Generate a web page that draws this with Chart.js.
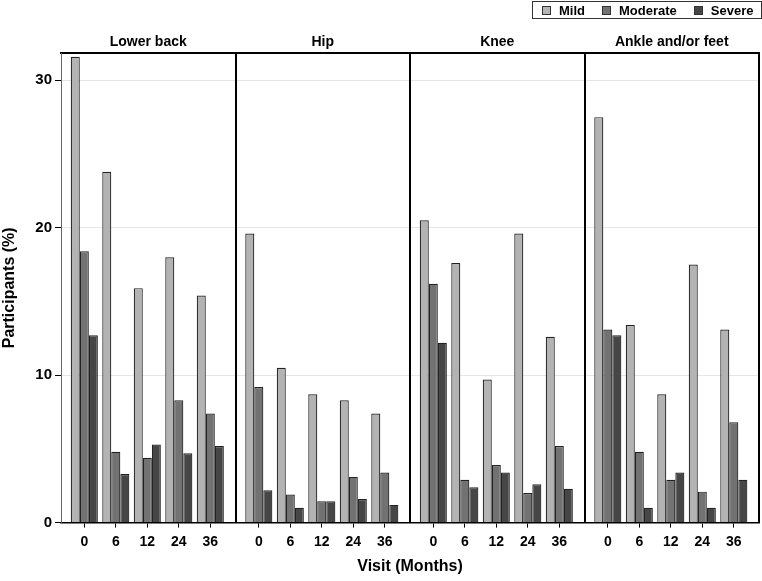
<!DOCTYPE html>
<html>
<head>
<meta charset="utf-8">
<script src="https://cdn.jsdelivr.net/npm/chart.js@4/dist/chart.umd.min.js"></script>
<style>
  body { margin: 0; background: #fff; }
  #wrap { position: relative; width: 762px; height: 581px; }
  #legend {
    position: absolute; left: 532px; top: 1px; height: 16px;
    border: 1.5px solid #333; display: flex; align-items: center;
    padding: 0 8px 0 9px;
    font: bold 13px "Liberation Sans", Arial, sans-serif; color: #000;
  }
  #legend span.item { display: flex; align-items: center; margin-right: 17px; }
  #legend span.item:last-child { margin-right: 0; }
  #legend i { display: inline-block; width: 7px; height: 7px; border: 1px solid #333; margin-right: 8px; }
</style>
</head>
<body>
<div id="wrap">
  <canvas id="painChart" width="762" height="581"></canvas>
  <div id="legend"></div>
</div>
<script>
const panels = ["Lower back", "Hip", "Knee", "Ankle and/or feet"];
const visits = ["0", "6", "12", "24", "36"];
const yTicks = [0, 10, 20, 30];

// one row per panel, one value per visit (%)
const mild = [
  [31.6, 23.8, 15.9, 18.0, 15.4],
  [19.6, 10.5, 8.7, 8.3, 7.4],
  [20.5, 17.6, 9.7, 19.6, 12.6],
  [27.5, 13.4, 8.7, 17.5, 13.1]
];
const moderate = [
  [18.4, 4.8, 4.4, 8.3, 7.4],
  [9.2, 1.9, 1.45, 3.1, 3.4],
  [16.2, 2.9, 3.9, 2.0, 5.2],
  [13.1, 4.8, 2.9, 2.1, 6.8]
];
const severe = [
  [12.7, 3.3, 5.3, 4.7, 5.2],
  [2.2, 1.0, 1.45, 1.6, 1.2],
  [12.2, 2.4, 3.4, 2.6, 2.3],
  [12.7, 1.0, 3.4, 1.0, 2.9]
];

const seriesNames = ["Mild", "Moderate", "Severe"];
const seriesColors = ["#b3b3b3", "#727272", "#464646"];

// panel layout on the x axis, in visit slots
const panelWidth = 5.54;
const panelLead = 0.74;

function toPoints(rows) {
  return rows.flatMap((row, p) => row.map((v, i) => ({ x: p * panelWidth + i, y: v })));
}

const panelFrame = {
  id: "panelFrame",
  afterDatasetsDraw(chart) {
    const { ctx, chartArea, scales } = chart;
    ctx.save();
    ctx.strokeStyle = "#000";
    ctx.lineWidth = 2;
    for (let p = 1; p <= panels.length; p++) {
      const px = Math.round(scales.x.getPixelForValue(p * panelWidth - panelLead));
      ctx.beginPath();
      ctx.moveTo(px, chartArea.top);
      ctx.lineTo(px, chartArea.bottom);
      ctx.stroke();
    }
    ctx.restore();
  }
};

Chart.defaults.font.family = "'Liberation Sans', Arial, sans-serif";
Chart.defaults.color = "#000";

const xMin = -panelLead;
const xMax = panels.length * panelWidth - panelLead;

const chart = new Chart(document.getElementById("painChart"), {
  type: "bar",
  data: {
    datasets: [mild, moderate, severe].map((rows, k) => ({
      label: seriesNames[k],
      data: toPoints(rows),
      backgroundColor: seriesColors[k],
      borderColor: "#222",
      borderWidth: 1.2,
      categoryPercentage: 0.86,
      barPercentage: 1.0
    }))
  },
  options: {
    responsive: false,
    animation: false,
    layout: { padding: { top: 32.2, right: 3, bottom: 2.4, left: 0 } },
    plugins: {
      legend: { display: false },
      tooltip: { enabled: false }
    },
    scales: {
      x: {
        type: "linear",
        position: "bottom",
        offset: false,
        min: xMin,
        max: xMax,
        afterBuildTicks: (scale) => {
          scale.ticks = panels.flatMap((_, p) => visits.map((_, i) => ({ value: p * panelWidth + i })));
        },
        ticks: {
          autoSkip: false,
          maxRotation: 0,
          padding: 6.5,
          font: { size: 14, weight: "bold" },
          callback: (value, index) => visits[index % visits.length]
        },
        grid: { offset: false, drawOnChartArea: false, tickLength: 5, tickColor: "#000", color: "#000" },
        border: { color: "#000", width: 1.5 },
        title: {
          display: true,
          text: "Visit (Months)",
          font: { size: 16, weight: "bold" },
          padding: { top: 0, bottom: 2 }
        }
      },
      x2: {
        type: "linear",
        position: "top",
        offset: false,
        min: xMin,
        max: xMax,
        afterBuildTicks: (scale) => {
          scale.ticks = panels.map((_, p) => ({ value: p * panelWidth - panelLead + panelWidth / 2 }));
        },
        ticks: {
          autoSkip: false,
          maxRotation: 0,
          padding: 2,
          font: { size: 14, weight: "bold" },
          callback: (value, index) => panels[index]
        },
        grid: { drawOnChartArea: false, drawTicks: false },
        border: { color: "#000", width: 2 }
      },
      y: {
        min: 0,
        max: 31.85,
        afterBuildTicks: (scale) => {
          scale.ticks = yTicks.map((v) => ({ value: v }));
        },
        afterFit: (scale) => {
          scale.width = 61;
        },
        ticks: { padding: 3, font: { size: 15, weight: "bold" } },
        grid: {
          color: (c) => (c.tick && c.tick.value === 0 ? "rgba(0,0,0,0)" : "#e6e6e6"),
          tickColor: "#000",
          tickLength: 6
        },
        border: { color: "#666", width: 1 },
        title: {
          display: true,
          text: "Participants (%)",
          font: { size: 16, weight: "bold" },
          padding: { top: 0, bottom: 0 }
        }
      }
    }
  },
  plugins: [panelFrame]
});

// html legend built from the chart's own legend items
const legendEl = document.getElementById("legend");
Chart.defaults.plugins.legend.labels.generateLabels(chart).forEach((item) => {
  const span = document.createElement("span");
  span.className = "item";
  const box = document.createElement("i");
  box.style.background = item.fillStyle;
  span.appendChild(box);
  span.appendChild(document.createTextNode(item.text));
  legendEl.appendChild(span);
});
</script>
</body>
</html>
